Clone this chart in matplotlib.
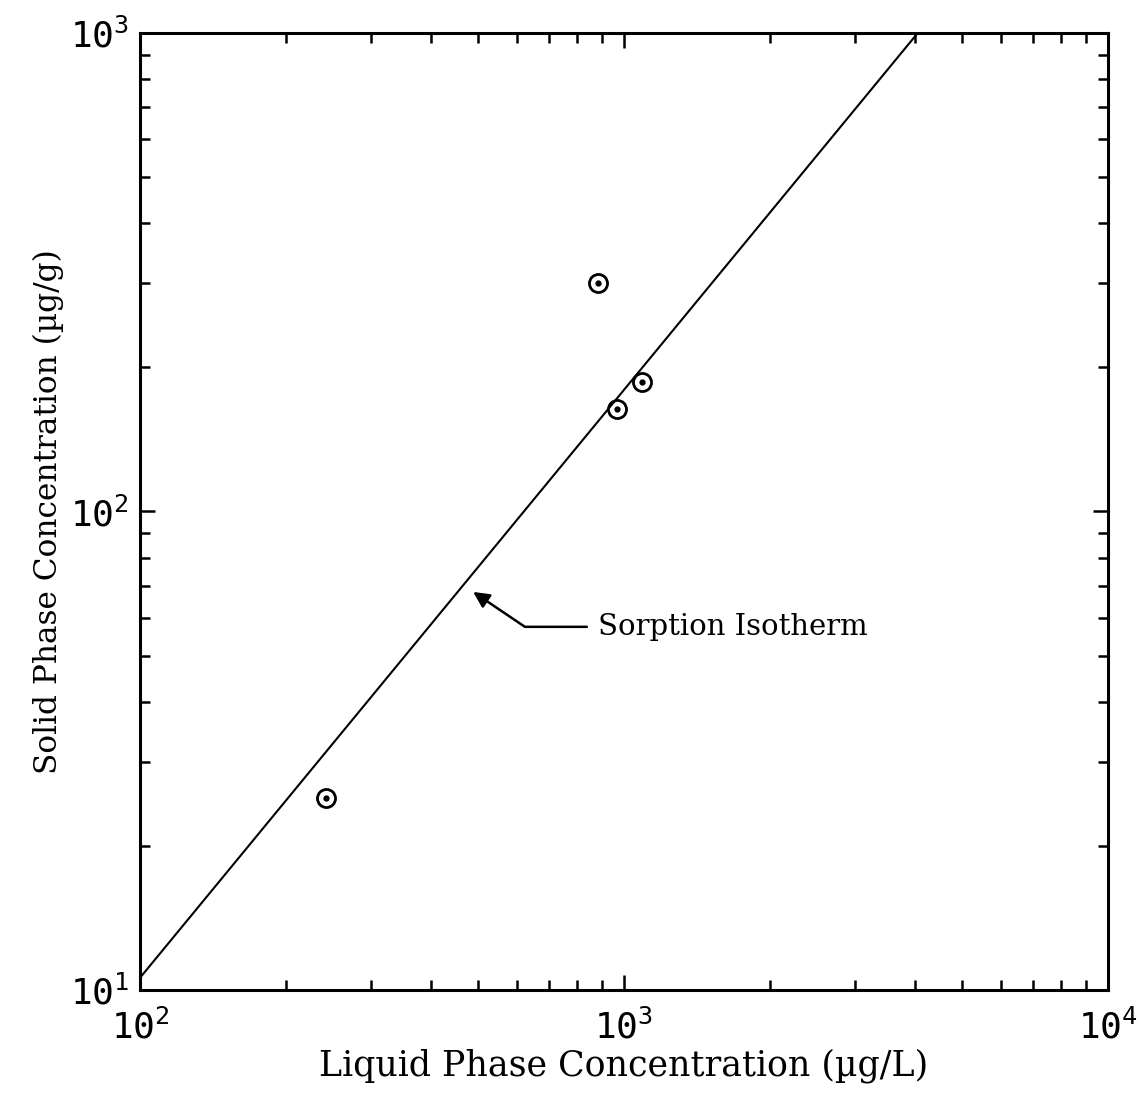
import numpy as np
import matplotlib.pyplot as plt
from matplotlib.ticker import LogLocator, FixedFormatter, FixedLocator, NullFormatter

# measured sorption data (liquid ug/L, solid ug/g)
liquid_conc = [242, 883, 966, 1088]
solid_conc = [25.2, 301, 163.6, 186.7]

# fitted isotherm end points
iso_liquid = [100, 4045]
iso_solid = [10.6, 1000]

x_ticks = [1e2, 1e3, 1e4]
x_tick_labels = [r"$\mathregular{10^{2}}$", r"$\mathregular{10^{3}}$", r"$\mathregular{10^{4}}$"]
y_ticks = [1e1, 1e2, 1e3]
y_tick_labels = [r"$\mathregular{10^{1}}$", r"$\mathregular{10^{2}}$", r"$\mathregular{10^{3}}$"]

label_x = "Liquid Phase Concentration (\u00b5g/L)"
label_y = "Solid Phase Concentration (\u00b5g/g)"
note = "Sorption Isotherm"
note_head = (488, 67.9)
note_tail = (838, 57.4)
note_text = (885, 57.4)

fig = plt.figure(figsize=(11.37, 11.04), dpi=100)
ax = fig.add_axes([0.1231, 0.1033, 0.8514, 0.8668])

ax.plot(iso_liquid, iso_solid, color="black", lw=1.5)
ax.plot(liquid_conc, solid_conc, linestyle="none", marker="o", ms=13,
        mfc="none", mec="black", mew=2)
ax.plot(liquid_conc, solid_conc, linestyle="none", marker="o", ms=3.5,
        color="black")

ax.set_xscale("log")
ax.set_yscale("log")
ax.set_xlim(1e2, 1e4)
ax.set_ylim(1e1, 1e3)

ax.xaxis.set_major_locator(FixedLocator(x_ticks))
ax.xaxis.set_major_formatter(FixedFormatter(x_tick_labels))
ax.yaxis.set_major_locator(FixedLocator(y_ticks))
ax.yaxis.set_major_formatter(FixedFormatter(y_tick_labels))
ax.xaxis.set_minor_locator(LogLocator(base=10, subs=np.arange(2, 10)))
ax.yaxis.set_minor_locator(LogLocator(base=10, subs=np.arange(2, 10)))
ax.xaxis.set_minor_formatter(NullFormatter())
ax.yaxis.set_minor_formatter(NullFormatter())

ax.tick_params(which="both", direction="in", top=True, right=True,
               width=1.8, color="black")
ax.tick_params(which="major", length=11, labelsize=26)
ax.tick_params(axis="x", which="major", pad=14)
ax.tick_params(axis="y", which="major", pad=8)
ax.tick_params(which="minor", length=7)
for lab in ax.get_xticklabels() + ax.get_yticklabels():
    lab.set_family("DejaVu Sans Mono")
for sp in ax.spines.values():
    sp.set_linewidth(2.2)

ax.set_xlabel(label_x, family="DejaVu Serif", fontsize=25, labelpad=2)
ax.set_ylabel(label_y, family="DejaVu Serif", fontsize=22.5, labelpad=4)

ax.annotate("", xy=note_head, xytext=note_tail,
            arrowprops=dict(arrowstyle="-|>", color="black", lw=1.8,
                            mutation_scale=24, shrinkA=0, shrinkB=0,
                            connectionstyle="angle,angleA=0,angleB=-34,rad=0"))
ax.text(*note_text, note, family="DejaVu Serif", fontsize=21,
        ha="left", va="center")

fig.savefig("out.png", dpi=100)
